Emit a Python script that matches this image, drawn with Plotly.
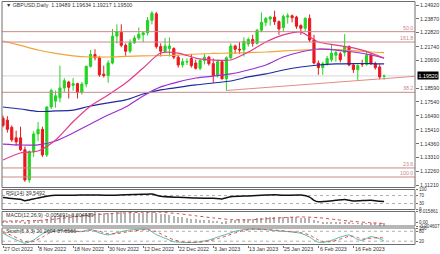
import plotly.graph_objects as go
import pandas as pd

W, H = 440, 254

# ---------------- data ----------------
dates = pd.bdate_range("2022-10-27", "2023-02-27")  # 88 daily bars

opens = [1.1630, 1.1615, 1.1560, 1.1480, 1.1480, 1.1390, 1.1160, 1.1375, 1.1510, 1.1545,
         1.1350, 1.1715, 1.1760, 1.1785, 1.1860, 1.1905, 1.1880, 1.1893, 1.1825, 1.1890,
         1.2025, 1.2115, 1.2090, 1.1965, 1.1955, 1.2050, 1.2255, 1.2285, 1.2185, 1.2140,
         1.2205, 1.2240, 1.2265, 1.2280, 1.2375, 1.2425, 1.2175, 1.2140, 1.2160, 1.2160,
         1.2095, 1.2035, 1.2058, 1.2085, 1.2050, 1.2010, 1.2070, 1.2095, 1.2045, 1.1955,
         1.2060, 1.1930, 1.2090, 1.2180, 1.2155, 1.2150, 1.2195, 1.2230, 1.2200, 1.2300,
         1.2360, 1.2385, 1.2400, 1.2365, 1.2320, 1.2400, 1.2410, 1.2400, 1.2335, 1.2315,
         1.2390, 1.2225, 1.2050, 1.2015, 1.2045, 1.2075, 1.2110, 1.2120, 1.2130, 1.2175,
         1.2035, 1.2000, 1.2045, 1.2040, 1.2110, 1.2045, 1.2020, 1.19489]
highs = [1.1650, 1.1645, 1.1575, 1.1535, 1.1565, 1.1415, 1.1385, 1.1530, 1.1600, 1.1565,
         1.1720, 1.1855, 1.1840, 1.2030, 1.1935, 1.1915, 1.1935, 1.1900, 1.1905, 1.2030,
         1.2150, 1.2155, 1.2105, 1.2030, 1.2070, 1.2310, 1.2345, 1.2345, 1.2200, 1.2230,
         1.2260, 1.2320, 1.2290, 1.2400, 1.2446, 1.2440, 1.2200, 1.2240, 1.2245, 1.2170,
         1.2110, 1.2085, 1.2085, 1.2120, 1.2075, 1.2080, 1.2120, 1.2105, 1.2085, 1.2075,
         1.2070, 1.2100, 1.2200, 1.2190, 1.2210, 1.2245, 1.2245, 1.2265, 1.2310, 1.2435,
         1.2400, 1.2410, 1.2448, 1.2375, 1.2420, 1.2430, 1.2420, 1.2410, 1.2345, 1.2400,
         1.2420, 1.2265, 1.2070, 1.2060, 1.2105, 1.2195, 1.2145, 1.2135, 1.2270, 1.2185,
         1.2050, 1.2040, 1.2075, 1.2145, 1.2125, 1.2060, 1.2040, 1.19634]
lows = [1.1560, 1.1520, 1.1450, 1.1420, 1.1380, 1.1145, 1.1138, 1.1335, 1.1455, 1.1335,
        1.1335, 1.1700, 1.1710, 1.1750, 1.1830, 1.1780, 1.1840, 1.1780, 1.1810, 1.1865,
        1.2015, 1.2070, 1.1945, 1.1940, 1.1900, 1.2040, 1.2200, 1.2170, 1.2105, 1.2125,
        1.2195, 1.2225, 1.2210, 1.2260, 1.2345, 1.2160, 1.2100, 1.2125, 1.2100, 1.2080,
        1.2015, 1.2015, 1.2035, 1.2015, 1.2000, 1.1995, 1.2040, 1.2030, 1.1900, 1.1940,
        1.1925, 1.1841, 1.2080, 1.2120, 1.2120, 1.2100, 1.2175, 1.2175, 1.2190, 1.2285,
        1.2330, 1.2335, 1.2340, 1.2265, 1.2290, 1.2350, 1.2360, 1.2310, 1.2265, 1.2290,
        1.2210, 1.2040, 1.1960, 1.1960, 1.2030, 1.2060, 1.2060, 1.2055, 1.2100, 1.2025,
        1.1975, 1.1915, 1.2020, 1.2030, 1.2035, 1.2000, 1.1925, 1.19217]
closes = [1.1575, 1.1545, 1.1465, 1.1450, 1.1390, 1.1160, 1.1375, 1.1510, 1.1545, 1.1350,
          1.1715, 1.1840, 1.1800, 1.1860, 1.1915, 1.1865, 1.1893, 1.1825, 1.1890, 1.2025,
          1.2115, 1.2090, 1.1960, 1.1955, 1.2050, 1.2255, 1.2290, 1.2185, 1.2140, 1.2205,
          1.2240, 1.2270, 1.2280, 1.2375, 1.2430, 1.2175, 1.2140, 1.2180, 1.2180, 1.2095,
          1.2035, 1.2060, 1.2062, 1.2030, 1.2010, 1.2070, 1.2095, 1.2045, 1.1955, 1.2060,
          1.1930, 1.2090, 1.2180, 1.2155, 1.2150, 1.2215, 1.2230, 1.2200, 1.2300, 1.2360,
          1.2390, 1.2400, 1.2365, 1.2310, 1.2405, 1.2410, 1.2395, 1.2330, 1.2315, 1.2390,
          1.2225, 1.2050, 1.2015, 1.2045, 1.2085, 1.2125, 1.2130, 1.2075, 1.2175, 1.2035,
          1.2000, 1.2030, 1.2040, 1.2110, 1.2045, 1.2015, 1.1944, 1.19500]

# moving averages at sample bars
ma_idx = [0, 4, 8, 12, 16, 20, 24, 28, 32, 36, 40, 44, 48, 52, 56, 60, 64, 68, 72, 76, 80, 84, 87]
ma_pink = [1.1312, 1.1365, 1.1380, 1.1464, 1.1603, 1.1723, 1.1807, 1.1898, 1.2012, 1.2126, 1.2126, 1.2088,
           1.2073, 1.2073, 1.2134, 1.2210, 1.2264, 1.2286, 1.2210, 1.2187, 1.2165, 1.2126, 1.2088]
ma_purple = [1.1433, 1.1426, 1.1426, 1.1456, 1.1517, 1.1586, 1.1654, 1.1715, 1.1799, 1.1868, 1.1906, 1.1936,
             1.1951, 1.1967, 1.1997, 1.2035, 1.2096, 1.2134, 1.2157, 1.2149, 1.2134, 1.2111, 1.2088]
ma_blue = [1.1715, 1.1700, 1.1681, 1.1685, 1.1692, 1.1723, 1.1746, 1.1769, 1.1814, 1.1845, 1.1864, 1.1883,
           1.1898, 1.1913, 1.1944, 1.1967, 1.1997, 1.2020, 1.2035, 1.2043, 1.2046, 1.2046, 1.2043]
ma_orange = [1.2218, 1.2184, 1.2149, 1.2123, 1.2104, 1.2096, 1.2096, 1.2100, 1.2104, 1.2107, 1.2111, 1.2119,
             1.2123, 1.2126, 1.2130, 1.2134, 1.2142, 1.2149, 1.2153, 1.2153, 1.2145, 1.2134, 1.2130]

fib_levels = [("50.0", 1.2289), ("161.8", 1.2210), ("38.2", 1.1827), ("23.6", 1.1251), ("100.0", 1.1182)]
trend_x = [51, 94.0]
trend_y = [1.1841, 1.1949]
bid_price = 1.1952
bid_text = "1.19520"

price_ticks = [1.24920, 1.23870, 1.22820, 1.21740, 1.20690, 1.18590, 1.17540,
               1.16490, 1.15410, 1.14360, 1.13310, 1.12260, 1.11210]

rsi_idx = [0, 2, 4, 5, 6, 8, 10, 12, 16, 20, 24, 28, 32, 34, 36, 40, 44, 48, 50, 52, 56, 60, 62,
           64, 68, 70, 71, 72, 76, 78, 80, 84, 86, 87]
rsi_val = [60, 55, 51, 44, 48, 58, 66, 71, 71, 73, 71, 74, 76, 77, 66, 61, 57, 56, 53, 64, 68, 72, 74,
           71, 72, 62, 46, 39, 46, 50, 43, 46, 41, 39.55]

macd_hist = [0.0035, 0.0036, 0.0034, 0.0033, 0.0030, 0.0018, 0.0025, 0.0035, 0.0045, 0.0040,
             0.0065, 0.0088, 0.0100, 0.0112, 0.0122, 0.0127, 0.0131, 0.0130, 0.0132, 0.0141,
             0.0150, 0.0154, 0.0146, 0.0139, 0.0139, 0.0150, 0.0158, 0.0156, 0.0150, 0.0148,
             0.0148, 0.0149, 0.0149, 0.0154, 0.0158, 0.0148, 0.0135, 0.0126, 0.0117, 0.0105,
             0.0092, 0.0082, 0.0074, 0.0064, 0.0056, 0.0052, 0.0050, 0.0043, 0.0032, 0.0031,
             0.0020, 0.0028, 0.0042, 0.0050, 0.0054, 0.0060, 0.0063, 0.0064, 0.0070, 0.0076,
             0.0082, 0.0086, 0.0088, 0.0084, 0.0087, 0.0089, 0.0088, 0.0083, 0.0078, 0.0080,
             0.0068, 0.0048, 0.0031, 0.0020, 0.0013, 0.0011, 0.0010, 0.0008, 0.0012, 0.0004,
             -0.0005, -0.0010, -0.0013, -0.0009, -0.0014, -0.0020, -0.0032, -0.0040]
macd_sig_idx = [0, 4, 8, 12, 16, 20, 24, 28, 32, 36, 40, 44, 48, 52, 56, 60, 64, 68, 72, 76, 80, 84, 87]
macd_sig = [0.0022, 0.0028, 0.0032, 0.0052, 0.0082, 0.0108, 0.0128, 0.0140, 0.0148, 0.0148, 0.0128, 0.0098,
            0.0068, 0.0045, 0.0040, 0.0055, 0.0072, 0.0082, 0.0072, 0.0045, 0.0018, 0.0000, -0.0010]

st_idx = [0, 2, 4, 5, 7, 9, 11, 13, 16, 18, 20, 22, 24, 26, 29, 33, 35, 37, 39, 41, 43, 45, 47, 49,
          51, 53, 55, 57, 60, 63, 65, 68, 70, 71, 72, 73, 75, 77, 79, 80, 81, 82, 84, 86, 87]
st_main = [68, 40, 17, 8, 27, 65, 88, 85, 80, 78, 92, 70, 58, 72, 88, 92, 60, 38, 17, 13, 12, 17, 27, 45,
           62, 80, 90, 94, 90, 82, 78, 68, 45, 27, 14, 12, 25, 45, 58, 45, 30, 25, 48, 35, 20.26]
st_sig = [75, 55, 30, 18, 18, 45, 75, 86, 82, 79, 85, 80, 65, 66, 80, 90, 78, 52, 28, 16, 13, 14, 22, 35,
          52, 70, 85, 92, 91, 85, 80, 72, 58, 42, 28, 18, 17, 33, 50, 50, 42, 33, 38, 42, 37.66]

date_idx = [0, 8, 16, 24, 32, 40, 48, 56, 64, 72, 80]
date_labels = ["27 Oct 2022", "8 Nov 2022", "18 Nov 2022", "30 Nov 2022", "12 Dec 2022", "22 Dec 2022",
               "3 Jan 2023", "13 Jan 2023", "25 Jan 2023", "6 Feb 2023", "16 Feb 2023"]

title_text = "\u25BC GBPUSD,Daily  1.19489 1.19634 1.19217 1.19500"
rsi_text = "RSI(14) 39.5492"
macd_text = "MACD(12,26,9) -0.005691 -0.004439"
stoch_text = "Stoch(5,3,3) 20.2604 37.6566"

# ---------------- styling / layout ----------------
FONT = "Liberation Sans"
FS = 5.3
GREEN = "#22d422"
RED = "#e8191e"
FIB = "#c9898a"
TXT = "#333333"

def py(p):
    return 1 - p / H

XL, XR = 2 / W, 415 / W
price_dom = [py(187.5), py(1.5)]
rsi_dom = [py(209.5), py(189.5)]
macd_dom = [py(226), py(211.5)]
st_dom = [py(244.5), py(228)]

x = list(range(len(dates)))

fig = go.Figure()
fig.add_trace(go.Candlestick(
    x=x, open=opens, high=highs, low=lows, close=closes,
    increasing=dict(line=dict(color=GREEN, width=1), fillcolor=GREEN),
    decreasing=dict(line=dict(color=RED, width=1), fillcolor=RED),
    whiskerwidth=0, xaxis="x", yaxis="y", hoverinfo="skip", showlegend=False))

for vals, col in [(ma_orange, "#f2a33a"), (ma_blue, "#1f2a9e"), (ma_purple, "#9b30d0"), (ma_pink, "#e23b8c")]:
    fig.add_trace(go.Scatter(x=ma_idx, y=vals, mode="lines", xaxis="x", yaxis="y",
                             line=dict(color=col, width=1.2, shape="spline", smoothing=0.7),
                             hoverinfo="skip", showlegend=False))

fig.add_trace(go.Scatter(x=rsi_idx, y=rsi_val, mode="lines", xaxis="x", yaxis="y2",
                         line=dict(color="#111111", width=1.5, shape="spline", smoothing=0.6),
                         hoverinfo="skip", showlegend=False))

fig.add_trace(go.Bar(x=x, y=macd_hist, xaxis="x", yaxis="y3", width=0.3,
                     marker=dict(color="#b4b4b4", line=dict(width=0)), hoverinfo="skip", showlegend=False))
fig.add_trace(go.Scatter(x=macd_sig_idx, y=macd_sig, mode="lines", xaxis="x", yaxis="y3",
                         line=dict(color="#e04848", width=1, dash="dot", shape="spline", smoothing=0.6),
                         hoverinfo="skip", showlegend=False))

fig.add_trace(go.Scatter(x=st_idx, y=st_main, mode="lines", xaxis="x", yaxis="y4",
                         line=dict(color="#5cb8a6", width=1, shape="spline", smoothing=0.5),
                         hoverinfo="skip", showlegend=False))
fig.add_trace(go.Scatter(x=st_idx, y=st_sig, mode="lines", xaxis="x", yaxis="y4",
                         line=dict(color="#e04848", width=1, dash="dot", shape="spline", smoothing=0.5),
                         hoverinfo="skip", showlegend=False))

shapes = []
annotations = []

# fib levels
for lab, lv in fib_levels:
    shapes.append(dict(type="line", xref="paper", yref="y", x0=XL, x1=XR, y0=lv, y1=lv,
                       line=dict(color=FIB, width=1), layer="above"))
    annotations.append(dict(text=lab, xref="paper", yref="y", x=XR - 1.5 / W, y=lv, xanchor="right",
                            yanchor="bottom", showarrow=False, font=dict(family=FONT, size=FS, color=FIB),
                            borderpad=0))
# trend line
shapes.append(dict(type="line", xref="x", yref="y", x0=trend_x[0], x1=trend_x[1], y0=trend_y[0], y1=trend_y[1],
                   line=dict(color="#e38a86", width=1), layer="above"))
# bid line
shapes.append(dict(type="line", xref="paper", yref="y", x0=XL, x1=XR, y0=bid_price, y1=bid_price,
                   line=dict(color="#d6d6d6", width=1), layer="below"))

# indicator levels
for lv in (70, 30):
    shapes.append(dict(type="line", xref="paper", yref="y2", x0=XL, x1=XR, y0=lv, y1=lv,
                       line=dict(color="#b0b0b0", width=1, dash="dot"), layer="below"))
for lv in (80, 20):
    shapes.append(dict(type="line", xref="paper", yref="y4", x0=XL, x1=XR, y0=lv, y1=lv,
                       line=dict(color="#b0b0b0", width=1, dash="dot"), layer="below"))

# pane frames
for dom in (price_dom, rsi_dom, macd_dom, st_dom):
    shapes.append(dict(type="rect", xref="paper", yref="paper", x0=XL, x1=XR, y0=dom[0], y1=dom[1],
                       line=dict(color="#6e6e6e", width=1), fillcolor="rgba(0,0,0,0)", layer="above"))

# texts
for txt, ypx in [(title_text, 5.5), (rsi_text, 192.5), (macd_text, 214.5), (stoch_text, 231)]:
    annotations.append(dict(text=txt, xref="paper", yref="paper", x=4 / W, y=py(ypx), xanchor="left",
                            yanchor="middle", showarrow=False, font=dict(family=FONT, size=FS, color=TXT)))
for i, lab in zip(date_idx, date_labels):
    annotations.append(dict(text=lab, xref="x", yref="paper", x=i - 0.2, y=py(249), xanchor="left",
                            yanchor="middle", showarrow=False, font=dict(family=FONT, size=FS, color=TXT)))
annotations.append(dict(text=bid_text, xref="paper", yref="y", x=416.5 / W, y=bid_price, xanchor="left",
                        yanchor="middle", showarrow=False, bgcolor="#000000", borderpad=0.6,
                        font=dict(family=FONT, size=FS, color="#ffffff")))

axis_common = dict(showgrid=False, zeroline=False, automargin=False, fixedrange=True,
                   tickfont=dict(family=FONT, size=FS, color=TXT), ticks="outside", ticklen=3,
                   tickcolor="#6e6e6e", tickwidth=1, showline=False)
small_axis = dict(axis_common, tickfont=dict(family=FONT, size=4.6, color=TXT), ticklen=2)

fig.update_layout(
    width=W, height=H, margin=dict(l=0, r=0, t=0, b=0),
    paper_bgcolor="#ffffff", plot_bgcolor="#ffffff",
    showlegend=False, bargap=0,
    xaxis=dict(domain=[XL, XR], range=[-0.23, 94.06], anchor="y4", showticklabels=False,
               tickvals=date_idx, rangeslider=dict(visible=False), **{k: v for k, v in axis_common.items() if k != "ticklen"},
               ticklen=2),
    yaxis=dict(domain=price_dom, range=[1.11020, 1.25187], side="right", anchor="x",
               tickvals=price_ticks, ticktext=[f"{v:.5f}" for v in price_ticks], **axis_common),
    yaxis2=dict(domain=rsi_dom, range=[0, 100], side="right", anchor="x",
                tickvals=[100, 70, 30, 0], ticktext=["100", "70", "30", "0"], **small_axis),
    yaxis3=dict(domain=macd_dom, range=[-0.004607, 0.015861], side="right", anchor="x",
                tickvals=[0.015861, 0, -0.004607], ticktext=["0.015861", "0.00", "-0.004607"], **small_axis),
    yaxis4=dict(domain=st_dom, range=[0, 100], side="right", anchor="x",
                tickvals=[100, 80, 20], ticktext=["100", "80", "20"], **small_axis),
    shapes=shapes, annotations=annotations,
)

fig.write_html("out.html")
